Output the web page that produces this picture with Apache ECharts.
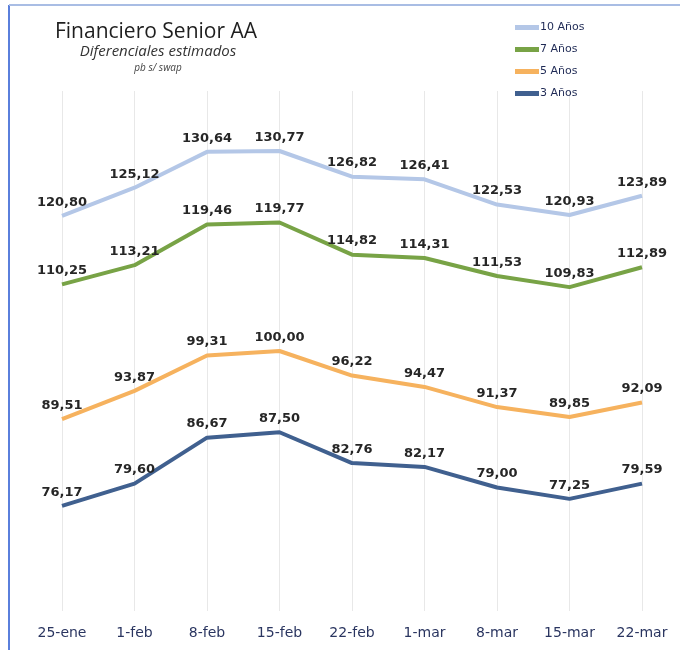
<!DOCTYPE html>
<html>
<head>
<meta charset="utf-8">
<script src="https://cdn.jsdelivr.net/npm/echarts@6/dist/echarts.min.js"></script>
<style>
  html, body { margin: 0; padding: 0; background: #fff; }
  #chart { width: 680px; height: 650px; }
</style>
</head>
<body>
<div id="chart"></div>
<script>
(function() {
    'use strict';

    // fechas semanales
    var categories = ['25-ene', '1-feb', '8-feb', '15-feb', '22-feb', '1-mar', '8-mar', '15-mar', '22-mar'];

    var seriesNames = ['10 Años', '7 Años', '5 Años', '3 Años'];
    var anios10 = [120.80, 125.12, 130.64, 130.77, 126.82, 126.41, 122.53, 120.93, 123.89];
    var anios7  = [110.25, 113.21, 119.46, 119.77, 114.82, 114.31, 111.53, 109.83, 112.89];
    var anios5  = [89.51, 93.87, 99.31, 100.00, 96.22, 94.47, 91.37, 89.85, 92.09];
    var anios3  = [76.17, 79.60, 86.67, 87.50, 82.76, 82.17, 79.00, 77.25, 79.59];

    var colors = ['#b4c7e7', '#78a346', '#f6b25e', '#40608f'];

    var chart = echarts.init(document.getElementById('chart'));

    function lineSerie(name, data, color) {
        return {
            name : name,
            type : 'line',
            data : data,
            symbol : 'circle',
            symbolSize : 0.1,
            showSymbol : true,
            smooth : false,
            lineStyle : { color : color, width : 4 },
            itemStyle : { color : color },
            label : {
                show : true,
                position : 'top',
                distance : 7,
                color : '#262626',
                fontFamily : 'DejaVu Sans',
                fontSize : 13,
                fontWeight : 'bold',
                formatter : function(p) {
                    return p.value.toFixed(2).replace('.', ',');
                }
            }
        };
    }

    var option = {
        backgroundColor : '#ffffff',
        animation : false,
        title : [
            {
                text : 'Financiero Senior AA',
                left : 156, top : 22, textAlign : 'center', padding : 0,
                textStyle : { fontFamily : 'Open Sans', fontSize : 21, fontWeight : 'normal', color : '#1e1e1e' }
            },
            {
                text : 'Diferenciales estimados',
                left : 158, top : 44, textAlign : 'center', padding : 0,
                textStyle : { fontFamily : 'Open Sans', fontSize : 15, fontStyle : 'italic', fontWeight : 'normal', color : '#333' }
            },
            {
                text : 'pb s/ swap',
                left : 158, top : 63, textAlign : 'center', padding : 0,
                textStyle : { fontFamily : 'Open Sans', fontSize : 10, fontStyle : 'italic', fontWeight : 'normal', color : '#444' }
            }
        ],
        legend : {
            data : seriesNames,
            orient : 'vertical',
            left : 515,
            top : 22,
            padding : 0,
            itemGap : 11,
            itemWidth : 24,
            itemHeight : 5,
            icon : 'rect',
            textStyle : { fontFamily : 'DejaVu Sans', fontSize : 11, color : '#1f2a55', padding : [0, 0, 0, -4] }
        },
        grid : { left : 62, right : 38, top : 91, bottom : 39 },
        xAxis : {
            type : 'category',
            data : categories,
            boundaryGap : false,
            axisLine : { show : false },
            axisTick : { show : false },
            splitLine : { show : true, lineStyle : { color : '#e8e8e8', width : 1 } },
            axisLabel : {
                margin : 15,
                fontFamily : 'DejaVu Sans',
                fontSize : 14,
                color : '#2a3560',
                interval : 0
            }
        },
        yAxis : {
            type : 'value',
            min : 60,
            max : 140,
            show : false,
            splitLine : { show : false }
        },
        graphic : [
            { type : 'line', shape : { x1 : 9, y1 : 5, x2 : 9, y2 : 650 }, style : { stroke : '#5a7fdc', lineWidth : 2 } },
            { type : 'line', shape : { x1 : 9, y1 : 5, x2 : 680, y2 : 5 }, style : { stroke : '#a9bde4', lineWidth : 2 } }
        ],
        series : [
            lineSerie(seriesNames[0], anios10, colors[0]),
            lineSerie(seriesNames[1], anios7, colors[1]),
            lineSerie(seriesNames[2], anios5, colors[2]),
            lineSerie(seriesNames[3], anios3, colors[3])
        ]
    };

    chart.setOption(option);
})();
</script>
</body>
</html>
